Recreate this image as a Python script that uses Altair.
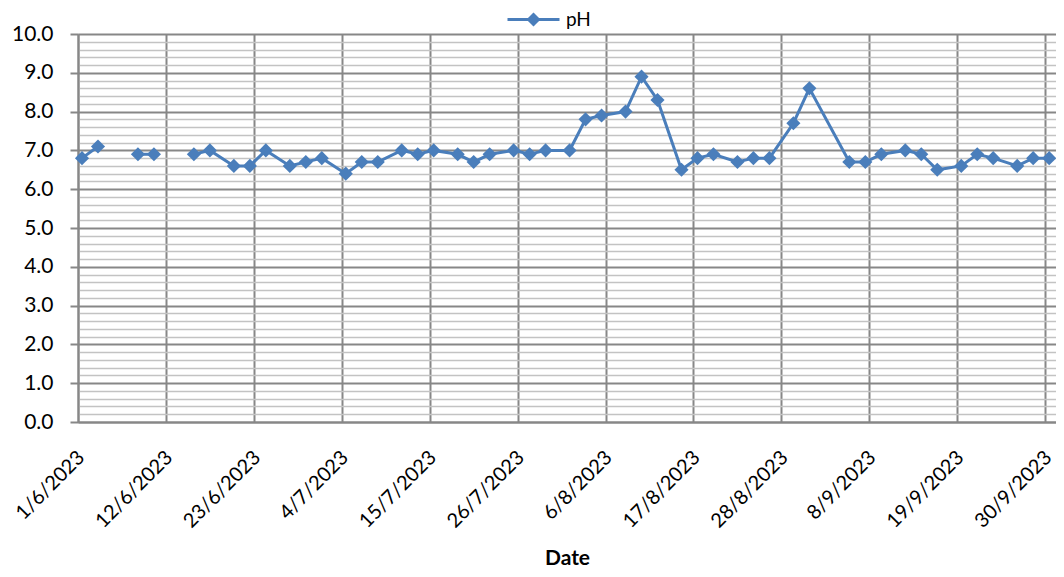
import altair as alt
import pandas as pd

# ---- data ----
dates = [
    "2023-06-01", "2023-06-03", "2023-06-06", "2023-06-08", "2023-06-10", "2023-06-13",
    "2023-06-15", "2023-06-17", "2023-06-20", "2023-06-22", "2023-06-24", "2023-06-27",
    "2023-06-29", "2023-07-01", "2023-07-04", "2023-07-06", "2023-07-08", "2023-07-11",
    "2023-07-13", "2023-07-15", "2023-07-18", "2023-07-20", "2023-07-22", "2023-07-25",
    "2023-07-27", "2023-07-29", "2023-08-01", "2023-08-03", "2023-08-05", "2023-08-08",
    "2023-08-10", "2023-08-12", "2023-08-15", "2023-08-17", "2023-08-19", "2023-08-22",
    "2023-08-24", "2023-08-26", "2023-08-29", "2023-08-31", "2023-09-05", "2023-09-07",
    "2023-09-09", "2023-09-12", "2023-09-14", "2023-09-16", "2023-09-19", "2023-09-21",
    "2023-09-23", "2023-09-26", "2023-09-28", "2023-09-30",
]
ph = [
    6.8, 7.1, None, 6.9, 6.9, None,
    6.9, 7.0, 6.6, 6.6, 7.0, 6.6,
    6.7, 6.8, 6.4, 6.7, 6.7, 7.0,
    6.9, 7.0, 6.9, 6.7, 6.9, 7.0,
    6.9, 7.0, 7.0, 7.8, 7.9, 8.0,
    8.9, 8.3, 6.5, 6.8, 6.9, 6.7,
    6.8, 6.8, 7.7, 8.6, 6.7, 6.7,
    6.9, 7.0, 6.9, 6.5, 6.6, 6.9,
    6.8, 6.6, 6.8, 6.8,
]
tick_dates = [
    (2023, 6, 1), (2023, 6, 12), (2023, 6, 23), (2023, 7, 4), (2023, 7, 15), (2023, 7, 26),
    (2023, 8, 6), (2023, 8, 17), (2023, 8, 28), (2023, 9, 8), (2023, 9, 19), (2023, 9, 30),
]
y_ticks = [round(i * 0.2, 1) for i in range(51)]
series_name = "pH"

# ---- table ----
segments = []
seg = 0
for v in ph:
    if v is None:
        seg += 1
    segments.append(seg)
df = pd.DataFrame({"date": dates, "pH": ph, "segment": segments})
df["series"] = series_name
df = df[df["pH"].notna()].reset_index(drop=True)

FONT = "Lato"
GRID_MAJOR = "#878787"
GRID_MINOR = "#c3c3c3"
LINE_COLOR = "#4A7EBB"
MARK_COLOR = "#4F81BD"
IS_MAJOR = "abs(datum.value - round(datum.value)) < 0.001"

x_enc = alt.X(
    "t:T",
    scale=alt.Scale(
        type="utc",
        domain=[
            alt.DateTime(year=2023, month=6, date=1, utc=True),
            alt.DateTime(year=2023, month=10, date=1, hours=8, minutes=30, utc=True),
        ],
    ),
    axis=alt.Axis(
        title="Date",
        values=[alt.DateTime(year=y, month=m, date=d, utc=True) for (y, m, d) in tick_dates],
        labelExpr="utcFormat(datum.value, '%-d/%-m/%Y')",
        labelAngle=-45,
        labelAlign="right",
        labelBaseline="middle",
        labelPadding=32,
        labelOffset=3,
        labelFont=FONT,
        labelFontSize=20,
        labelColor="black",
        labelOverlap=False,
        labelFlush=False,
        tickSize=0,
        grid=True,
        gridColor=GRID_MAJOR,
        gridWidth=2,
        domainColor=GRID_MAJOR,
        domainWidth=2,
        titleFont=FONT,
        titleFontSize=21,
        titleFontWeight="bold",
        titleColor="black",
        titleY=142,
        titleBaseline="alphabetic",
    ),
)

y_enc = alt.Y(
    "pH:Q",
    scale=alt.Scale(domain=[0, 10], nice=False, zero=True),
    axis=alt.Axis(
        title=None,
        values=y_ticks,
        labelExpr=IS_MAJOR + " ? format(datum.value, '.1f') : ''",
        labelFont=FONT,
        labelFontSize=21,
        labelColor="black",
        labelPadding=17,
        labelOverlap=False,
        tickSize=8,
        tickColor=GRID_MAJOR,
        tickWidth=2,
        tickOpacity=alt.ConditionalAxisNumber(
            condition={"test": IS_MAJOR, "value": 1},
            value=0,
        ),
        grid=True,
        gridColor=alt.ConditionalAxisColor(
            condition={"test": IS_MAJOR, "value": GRID_MAJOR},
            value=GRID_MINOR,
        ),
        gridWidth=alt.ConditionalAxisNumber(
            condition={"test": IS_MAJOR, "value": 2},
            value=1.5,
        ),
        domainColor=GRID_MAJOR,
        domainWidth=2,
    ),
)

legend = alt.Legend(
    title=None,
    orient="none",
    legendX=428,
    legendY=-42,
    padding=0,
    symbolType="M-1,0L1,0M-0.19,0L0,-0.19L0.19,0L0,0.19Z",
    symbolSize=2704,
    symbolStrokeWidth=3,
    symbolFillColor=MARK_COLOR,
    symbolStrokeColor=LINE_COLOR,
    labelFont=FONT,
    labelFontSize=19,
    labelColor="black",
    labelOffset=5,
)

base = alt.Chart(df).transform_calculate(t="+toDate(datum.date) + 43200000")

line = base.mark_line(strokeWidth=3).encode(
    x=x_enc,
    y=y_enc,
    color=alt.Color("series:N", scale=alt.Scale(range=[LINE_COLOR]), legend=legend),
    detail="segment:N",
)
points = base.mark_point(shape="diamond", filled=True, size=200, opacity=1).encode(
    x=x_enc,
    y=y_enc,
    color=alt.Color("series:N", scale=alt.Scale(range=[MARK_COLOR]), legend=legend),
)

chart = (
    alt.layer(line, points)
    .properties(
        width=978,
        height=388,
        autosize=alt.AutoSizeParams(type="none"),
        padding={"left": 70, "top": 26, "right": 0, "bottom": 147},
    )
    .configure_view(stroke=None)
    .configure(background="white")
)

chart.save("out.html", embed_options={"renderer": "svg", "actions": False})
